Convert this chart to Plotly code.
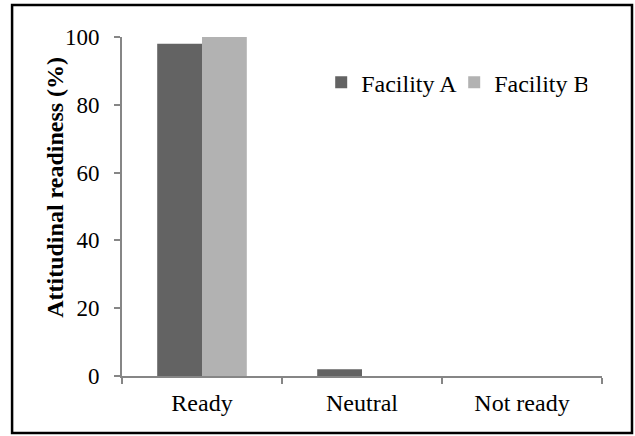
import plotly.graph_objects as go

categories = ["Ready", "Neutral", "Not ready"]
facility_a = [98, 2, 0]
facility_b = [100, 0, 0]
y_ticks = [0, 20, 40, 60, 80, 100]
y_title = "<b>Attitudinal readiness (%)</b>"

font_family = "'Times New Roman', 'Liberation Serif', 'DejaVu Serif', serif"

fig = go.Figure()
fig.add_trace(go.Bar(x=categories, y=facility_a, name="Facility A",
                     marker=dict(color="#636363", line=dict(width=0))))
fig.add_trace(go.Bar(x=categories, y=facility_b, name="Facility B",
                     marker=dict(color="#b2b2b2", line=dict(width=0))))

fig.update_layout(
    width=635, height=436,
    margin=dict(l=122, r=33, t=37, b=60),
    paper_bgcolor="white", plot_bgcolor="white",
    barmode="group", bargap=0.44, bargroupgap=0,
    font=dict(family=font_family, size=23, color="black"),
    showlegend=True,
    legend=dict(orientation="h", x=0.415, y=0.865, xanchor="left", yanchor="middle",
                font=dict(family=font_family, size=24), itemwidth=30,
                entrywidth=88, entrywidthmode="pixels",
                bgcolor="rgba(0,0,0,0)", traceorder="normal"),
    xaxis=dict(showline=True, linecolor="#868686", linewidth=2,
               ticks="outside", tickson="boundaries", ticklen=6, tickcolor="#868686",
               tickwidth=2, showgrid=False, ticklabelstandoff=4,
               tickfont=dict(family=font_family, size=24)),
    yaxis=dict(range=[0, 100], tickvals=y_ticks, showline=True, linecolor="#868686",
               linewidth=2, ticks="outside", ticklen=6, tickcolor="#868686", tickwidth=2,
               showgrid=False, zeroline=False, ticklabelstandoff=10,
               tickfont=dict(family=font_family, size=23)),
    annotations=[dict(text=y_title, xref="paper", yref="paper",
                      x=-0.14, y=0.5575, textangle=-90,
                      showarrow=False, xanchor="center", yanchor="middle",
                      font=dict(family=font_family, size=24, color="black"))],
    shapes=[dict(type="rect", xref="paper", yref="paper",
                 x0=-0.229, x1=1.0625, y0=-0.168, y1=1.0944,
                 line=dict(color="black", width=2.5), fillcolor="rgba(0,0,0,0)")],
)

fig.write_html("out.html", config={"displayModeBar": False},
               post_script="document.body.style.margin='0px';")
